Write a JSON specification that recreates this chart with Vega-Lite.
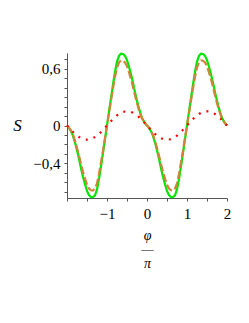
{
  "$schema": "https://vega.github.io/schema/vega-lite/v6.json",
  "width": 160,
  "height": 145,
  "autosize": {"type": "none"},
  "padding": {"left": 67, "top": 53, "right": 22, "bottom": 125},
  "background": "white",
  "config": {"view": {"stroke": null}},
  "data": {"values": [
    {"x":-2,"g":0,"o":0,"r":0},
    {"x":-1.95,"g":-0.025,"o":-0.023,"r":-0.023},
    {"x":-1.9,"g":-0.06,"o":-0.054,"r":-0.046},
    {"x":-1.85,"g":-0.11,"o":-0.1,"r":-0.068},
    {"x":-1.8,"g":-0.18,"o":-0.163,"r":-0.088},
    {"x":-1.75,"g":-0.26,"o":-0.235,"r":-0.106},
    {"x":-1.7,"g":-0.35,"o":-0.317,"r":-0.121},
    {"x":-1.65,"g":-0.45,"o":-0.407,"r":-0.134},
    {"x":-1.6,"g":-0.54,"o":-0.489,"r":-0.143},
    {"x":-1.55,"g":-0.62,"o":-0.561,"r":-0.148},
    {"x":-1.5,"g":-0.69,"o":-0.624,"r":-0.15},
    {"x":-1.45,"g":-0.735,"o":-0.665,"r":-0.148},
    {"x":-1.4,"g":-0.755,"o":-0.683,"r":-0.143},
    {"x":-1.35,"g":-0.758,"o":-0.686,"r":-0.134},
    {"x":-1.3,"g":-0.735,"o":-0.665,"r":-0.121},
    {"x":-1.25,"g":-0.675,"o":-0.611,"r":-0.106},
    {"x":-1.2,"g":-0.565,"o":-0.511,"r":-0.088},
    {"x":-1.15,"g":-0.43,"o":-0.389,"r":-0.068},
    {"x":-1.1,"g":-0.29,"o":-0.262,"r":-0.046},
    {"x":-1.05,"g":-0.145,"o":-0.131,"r":-0.023},
    {"x":-1,"g":0,"o":0,"r":0},
    {"x":-0.95,"g":0.145,"o":0.131,"r":0.023},
    {"x":-0.9,"g":0.29,"o":0.262,"r":0.046},
    {"x":-0.85,"g":0.43,"o":0.389,"r":0.068},
    {"x":-0.8,"g":0.565,"o":0.511,"r":0.088},
    {"x":-0.75,"g":0.675,"o":0.611,"r":0.106},
    {"x":-0.7,"g":0.735,"o":0.665,"r":0.121},
    {"x":-0.65,"g":0.758,"o":0.686,"r":0.134},
    {"x":-0.6,"g":0.755,"o":0.683,"r":0.143},
    {"x":-0.55,"g":0.735,"o":0.665,"r":0.148},
    {"x":-0.5,"g":0.69,"o":0.624,"r":0.15},
    {"x":-0.45,"g":0.62,"o":0.561,"r":0.148},
    {"x":-0.4,"g":0.54,"o":0.489,"r":0.143},
    {"x":-0.35,"g":0.45,"o":0.407,"r":0.134},
    {"x":-0.3,"g":0.35,"o":0.317,"r":0.121},
    {"x":-0.25,"g":0.26,"o":0.235,"r":0.106},
    {"x":-0.2,"g":0.18,"o":0.163,"r":0.088},
    {"x":-0.15,"g":0.11,"o":0.1,"r":0.068},
    {"x":-0.1,"g":0.06,"o":0.054,"r":0.046},
    {"x":-0.05,"g":0.025,"o":0.023,"r":0.023},
    {"x":0,"g":0,"o":0,"r":0},
    {"x":0.05,"g":-0.025,"o":-0.023,"r":-0.023},
    {"x":0.1,"g":-0.06,"o":-0.054,"r":-0.046},
    {"x":0.15,"g":-0.11,"o":-0.1,"r":-0.068},
    {"x":0.2,"g":-0.18,"o":-0.163,"r":-0.088},
    {"x":0.25,"g":-0.26,"o":-0.235,"r":-0.106},
    {"x":0.3,"g":-0.35,"o":-0.317,"r":-0.121},
    {"x":0.35,"g":-0.45,"o":-0.407,"r":-0.134},
    {"x":0.4,"g":-0.54,"o":-0.489,"r":-0.143},
    {"x":0.45,"g":-0.62,"o":-0.561,"r":-0.148},
    {"x":0.5,"g":-0.69,"o":-0.624,"r":-0.15},
    {"x":0.55,"g":-0.735,"o":-0.665,"r":-0.148},
    {"x":0.6,"g":-0.755,"o":-0.683,"r":-0.143},
    {"x":0.65,"g":-0.758,"o":-0.686,"r":-0.134},
    {"x":0.7,"g":-0.735,"o":-0.665,"r":-0.121},
    {"x":0.75,"g":-0.675,"o":-0.611,"r":-0.106},
    {"x":0.8,"g":-0.565,"o":-0.511,"r":-0.088},
    {"x":0.85,"g":-0.43,"o":-0.389,"r":-0.068},
    {"x":0.9,"g":-0.29,"o":-0.262,"r":-0.046},
    {"x":0.95,"g":-0.145,"o":-0.131,"r":-0.023},
    {"x":1,"g":0,"o":0,"r":0},
    {"x":1.05,"g":0.145,"o":0.131,"r":0.023},
    {"x":1.1,"g":0.29,"o":0.262,"r":0.046},
    {"x":1.15,"g":0.43,"o":0.389,"r":0.068},
    {"x":1.2,"g":0.565,"o":0.511,"r":0.088},
    {"x":1.25,"g":0.675,"o":0.611,"r":0.106},
    {"x":1.3,"g":0.735,"o":0.665,"r":0.121},
    {"x":1.35,"g":0.758,"o":0.686,"r":0.134},
    {"x":1.4,"g":0.755,"o":0.683,"r":0.143},
    {"x":1.45,"g":0.735,"o":0.665,"r":0.148},
    {"x":1.5,"g":0.69,"o":0.624,"r":0.15},
    {"x":1.55,"g":0.62,"o":0.561,"r":0.148},
    {"x":1.6,"g":0.54,"o":0.489,"r":0.143},
    {"x":1.65,"g":0.45,"o":0.407,"r":0.134},
    {"x":1.7,"g":0.35,"o":0.317,"r":0.121},
    {"x":1.75,"g":0.26,"o":0.235,"r":0.106},
    {"x":1.8,"g":0.18,"o":0.163,"r":0.088},
    {"x":1.85,"g":0.11,"o":0.1,"r":0.068},
    {"x":1.9,"g":0.06,"o":0.054,"r":0.046},
    {"x":1.95,"g":0.025,"o":0.023,"r":0.023},
    {"x":2,"g":0,"o":0,"r":0}
  ]},
  "transform": [{"fold": ["g", "o", "r"], "as": ["k", "S"]}],
  "encoding": {
    "x": {
      "field": "x", "type": "quantitative",
      "scale": {"domain": [-2, 2], "nice": false, "zero": false},
      "axis": {
        "values": [-2, -1.5, -1, -0.5, 0, 0.5, 1, 1.5, 2],
        "labelExpr": "datum.value == -1 ? '−1' : datum.value == 0 ? '0' : datum.value == 1 ? '1' : datum.value == 2 ? '2' : ''",
        "grid": false,
        "domainColor": "#555", "tickColor": "#555", "tickSize": 3,
        "labelFont": "Liberation Serif", "labelFontSize": 15, "labelColor": "black",
        "labelPadding": 5, "labelFlush": false, "labelOverlap": false,
        "title": ["φ", "—", "π"],
        "titleFont": "Liberation Serif", "titleFontSize": 14, "titleFontStyle": "italic",
        "titleFontWeight": "normal", "titleColor": "black",
        "titleLineHeight": 14, "titleBaseline": "top", "titleY": 30
      }
    },
    "y": {
      "field": "S", "type": "quantitative",
      "scale": {"domain": [-0.765, 0.765], "nice": false, "zero": false},
      "axis": {
        "values": [-0.7, -0.6, -0.5, -0.4, -0.3, -0.2, -0.1, 0, 0.1, 0.2, 0.3, 0.4, 0.5, 0.6, 0.7],
        "labelExpr": "abs(datum.value - 0.6) < 0.001 ? '0,6' : abs(datum.value) < 0.001 ? '0' : abs(datum.value + 0.4) < 0.001 ? '−0,4' : ''",
        "grid": false,
        "domainColor": "#555", "tickColor": "#555", "tickSize": 3,
        "labelFont": "Liberation Serif", "labelFontSize": 15, "labelColor": "black",
        "labelPadding": 4, "labelFlush": false, "labelOverlap": false,
        "title": "S",
        "titleFont": "Liberation Serif", "titleFontSize": 17, "titleFontStyle": "italic",
        "titleFontWeight": "normal", "titleColor": "black",
        "titleAngle": 0, "titleAlign": "center", "titleBaseline": "middle",
        "titleX": -50, "titleY": 72
      }
    }
  },
  "layer": [
    {
      "transform": [{"filter": "datum.k == 'g'"}],
      "mark": {"type": "line", "color": "#00e600", "strokeWidth": 2.2}
    },
    {
      "transform": [{"filter": "datum.k == 'o'"}],
      "mark": {"type": "line", "color": "#d2843c", "strokeWidth": 2.2, "strokeDash": [8, 3]}
    },
    {
      "transform": [{"filter": "datum.k == 'r'"}],
      "mark": {"type": "line", "color": "#ff0000", "strokeWidth": 2.2, "strokeDash": [2, 6]}
    }
  ]
}
